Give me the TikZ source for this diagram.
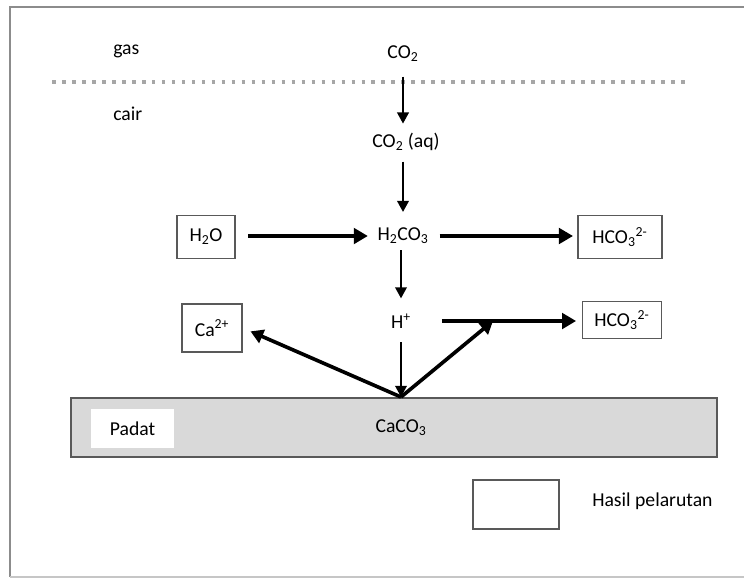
\documentclass[tikz,border=0pt]{standalone}
\usepackage{fontspec}
\setmainfont{Carlito}
\usetikzlibrary{arrows.meta}
\definecolor{Edge}{HTML}{595959}
\definecolor{Solid}{HTML}{D9D9D9}
\definecolor{Frame}{HTML}{8C8C8C}
\newcommand{\chemsub}[1]{\textsubscript{#1}}
\newcommand{\chemsup}[1]{\textsuperscript{#1}}
\tikzset{
ionbox/.style={draw=Edge, line width=1.1pt, fill=white, inner sep=0pt},
ionlabel/.style={inner sep=0pt},
ionarrow/.style={-{Triangle[length=8pt,width=8pt]}, line width=2pt},
ionbold/.style={-{Triangle[length=10pt,width=11pt]}, line width=3.2pt},
iondiag/.style={-{Triangle[length=9pt,width=10pt]}, line width=2.6pt}
}

\begin{document}
\begin{tikzpicture}[font=\fontsize{14}{17}\selectfont, x=0.025cm, y=-0.025cm]
  \useasboundingbox (0,0) rectangle (744,579);
  % outer frame, open to the right
  \draw[Frame, line width=1.3pt] (744,7) -- (10,7) -- (10,577);
  \draw[Frame!50, line width=1pt] (10,577) -- (744,577);
  % gas / liquid boundary
  \coordinate (bound west) at (52,82);
  \coordinate (bound east) at (687,82);
  \draw[gray!70, line width=2.2pt, dash pattern=on 2.6pt off 4.5pt] (bound west) -- (bound east);
  \node[ionlabel, anchor=west] (gas) at (113,51) {gas};
  \node[ionlabel, anchor=west] (cair) at (113,114) {cair};

  \node[ionlabel] (co2g) at (403,54) {CO\chemsub{2}};
  \node[ionlabel] (co2aq) at (406,142) {CO\chemsub{2} (aq)};
  \node[ionlabel] (h2co3) at (403,236) {H\chemsub{2}CO\chemsub{3}};
  \node[ionlabel] (hplus) at (401,321) {H\chemsup{+}};

  \node[ionbox, minimum width=1.45cm, minimum height=1.075cm] (h2o) at (206,237) {H\chemsub{2}O};
  \node[ionbox, minimum width=2.1cm, minimum height=1.075cm] (hco3a) at (620,237) {HCO\chemsub{3}\chemsup{2-}};
  \node[ionbox, minimum width=1.5cm, minimum height=1.2cm] (ca) at (212,328) {Ca\chemsup{2+}};
  \node[ionbox, minimum width=1.975cm, minimum height=0.925cm] (hco3b) at (622,320) {HCO\chemsub{3}\chemsup{2-}};

  % solid layer
  \node[draw=Edge, line width=1.4pt, fill=Solid, minimum width=16.15cm, minimum height=1.475cm, inner sep=0pt] (solid) at (394,427.5) {};
  \node[fill=white, minimum width=2.075cm, minimum height=0.975cm, inner sep=0pt] (padat) at (132.5,428.5) {Padat};
  \node[ionlabel] (caco3) at (401,428) {CaCO\chemsub{3}};
  \coordinate (base) at (solid.north -| hplus);

  % legend
  \node[ionbox, minimum width=2.15cm, minimum height=1.225cm] (legend) at (516,504.5) {};
  \node[ionlabel, anchor=west] (legendtext) at (592,501) {Hasil pelarutan};

  \draw[ionarrow, shorten <=16pt, shorten >=13pt] (co2g.center) -- (co2g.center |- co2aq.center);
  \draw[ionarrow, shorten <=14pt, shorten >=17pt] (co2aq.center -| h2co3) -- (h2co3.center);
  \draw[ionarrow, shorten <=10pt, shorten >=16pt] (h2co3.center -| hplus) -- (hplus.center);
  \draw[ionarrow, shorten <=15pt] (hplus.center) -- (base);

  \draw[ionbold, shorten <=30pt, shorten >=25pt] (h2o.center |- h2co3) -- (h2co3.center);
  \draw[ionbold, shorten <=26pt, shorten >=3pt] (h2co3.center) -- (h2co3.center -| hco3a.west);
  \draw[ionbold, shorten <=29pt, shorten >=4pt] (hplus.center) -- (hplus.center -| hco3b.west);

  \coordinate (join) at (493,321);
  \draw[iondiag] (base) -- (join);
  \draw[iondiag, shorten >=6pt] (base) -- (ca.east);
\end{tikzpicture}
\end{document}
